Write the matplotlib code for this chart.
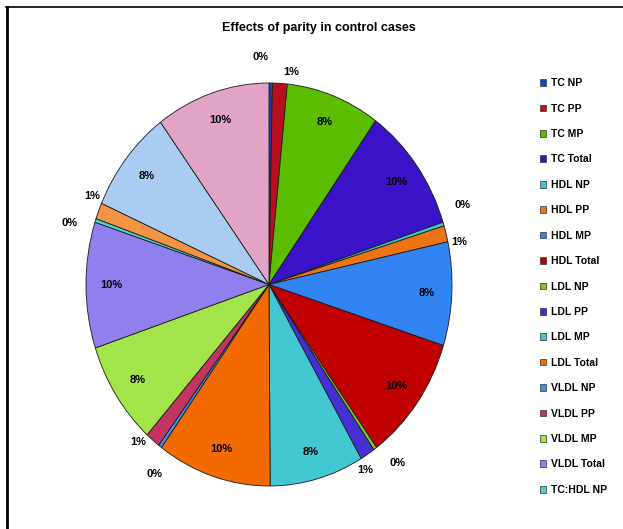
import matplotlib
matplotlib.use("Agg")
import numpy as np
import matplotlib.pyplot as plt
from matplotlib.patches import Patch
from matplotlib.lines import Line2D

# -------------------------------------------------
# Data
# -------------------------------------------------

labels = [
    "TC NP", "TC PP", "TC MP", "TC Total",
    "HDL NP", "HDL PP", "HDL MP", "HDL Total",
    "LDL NP", "LDL PP", "LDL MP", "LDL Total",
    "VLDL NP", "VLDL PP", "VLDL MP", "VLDL Total",
    "TC:HDL NP", "TC:HDL PP", "TC:HDL MP", "TC:HDL Total",
]

values = [
    0.3, 1.3, 8.3, 10.1,
    0.3, 1.3, 8.3, 10.1,
    0.3, 1.3, 8.3, 10.1,
    0.3, 1.3, 8.3, 10.1,
    0.3, 1.3, 8.3, 10.1,
]

colors = [
    "#1f3fc0", "#b80f1f", "#5cbc00", "#3a12c8",
    "#3cc8cc", "#ec7414", "#3184f2", "#c00000",
    "#7cc81c", "#4630d4", "#42c8d2", "#f26a00",
    "#3f8ef0", "#c23462", "#a2e44a", "#9080ee",
    "#48d4d4", "#f29444", "#aacbf2", "#e2a4c6",
]

# only the first 17 entries fit in the legend box
n_legend = 17

# -------------------------------------------------
# Figure
# -------------------------------------------------

font = ["Liberation Sans", "DejaVu Sans"]

fig = plt.figure(figsize=(6.23, 5.29), dpi=100)

W, H = 623, 529
ax = fig.add_axes([86 / W, 1 - 486 / H, 366 / W, 403 / H])

wedges, _ = ax.pie(
    values,
    colors=colors,
    startangle=90,
    counterclock=False,
    wedgeprops=dict(edgecolor="#1a1a1a", linewidth=0.6),
)

ax.set_aspect("auto")
ax.set_xlim(-1, 1)
ax.set_ylim(-1, 1)

total = sum(values)

for i, (w, v) in enumerate(zip(wedges, values)):
    pct = "%d%%" % round(100 * v / total)
    mid = (w.theta1 + w.theta2) / 2
    kind = i % 4
    if kind >= 2:
        r, ang = 0.86, mid
    elif kind == 0:
        r, ang = 1.13, mid + 3
    else:
        r, ang = 1.06, mid - 3
    x = r * np.cos(np.radians(ang))
    y = r * np.sin(np.radians(ang))
    ax.text(x, y, pct, ha="center", va="center", fontsize=8,
            fontweight="bold", family=font, color="black", clip_on=False)

# -------------------------------------------------
# Title and legend
# -------------------------------------------------

fig.text(319 / W, 1 - 28 / H, "Effects of parity in control cases",
         ha="center", va="center", fontsize=9, fontweight="bold",
         family=font)

handles = [
    Patch(facecolor=c, edgecolor="#333333", linewidth=0.5)
    for c in colors[:n_legend]
]

fig.legend(
    handles,
    labels[:n_legend],
    loc="upper left",
    bbox_to_anchor=(535 / W, 1 - 73 / H),
    frameon=False,
    prop=dict(family=font, size=7.5, weight="bold"),
    handlelength=0.6,
    handleheight=0.6,
    handletextpad=0.4,
    labelspacing=1.48,
    borderpad=0,
)

# frame lines (top and left edge of the original chart box)
fig.add_artist(Line2D([6 / W, 1], [1 - 7 / H, 1 - 7 / H],
                      transform=fig.transFigure, color="black", lw=1.2))
fig.add_artist(Line2D([7 / W, 7 / W], [0, 1 - 7 / H],
                      transform=fig.transFigure, color="black", lw=2))

fig.savefig("out.png", dpi=100)
